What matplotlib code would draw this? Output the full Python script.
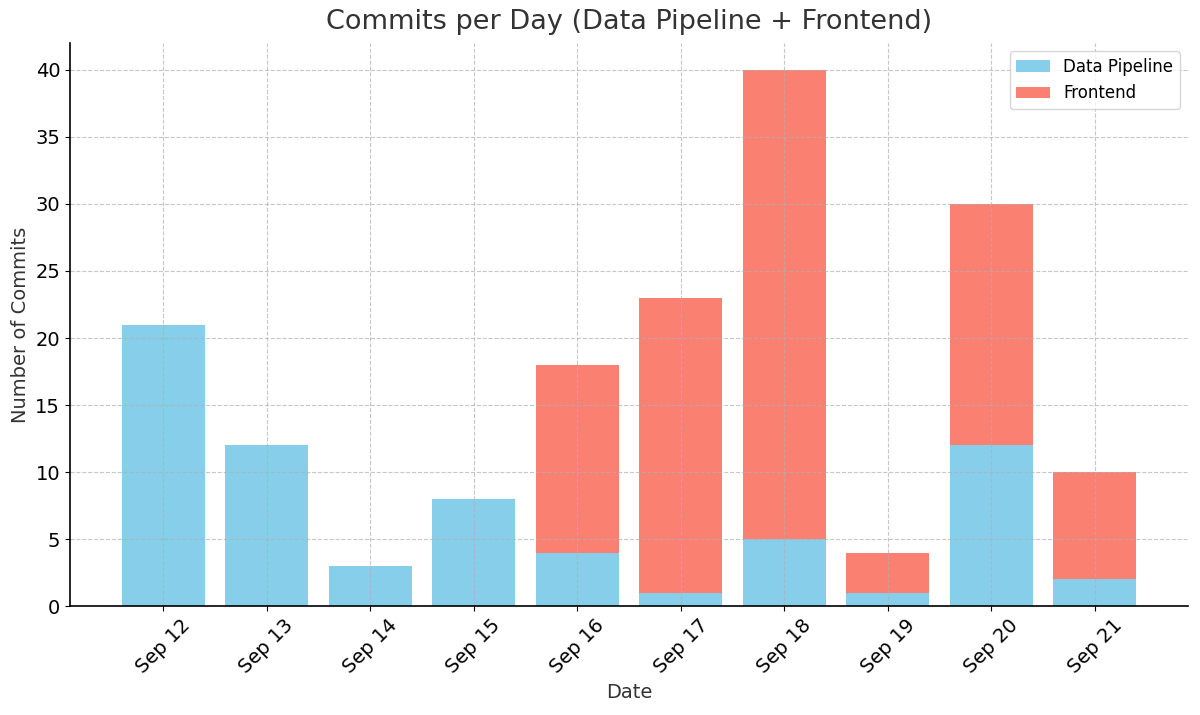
import matplotlib
matplotlib.use("Agg")
import matplotlib.pyplot as plt
import numpy as np

dates = ["Sep 12", "Sep 13", "Sep 14", "Sep 15", "Sep 16",
         "Sep 17", "Sep 18", "Sep 19", "Sep 20", "Sep 21"]
data_pipeline = [21, 12, 3, 8, 4, 1, 5, 1, 12, 2]
frontend = [0, 0, 0, 0, 14, 22, 35, 3, 18, 8]


def main():
    fig = plt.figure(figsize=(12, 7.15), dpi=100)
    ax = fig.add_axes([0.0583, 0.152, 0.9317, 0.788])

    x = np.arange(len(dates))
    ax.bar(x, data_pipeline, width=0.8, color="skyblue", label="Data Pipeline")
    ax.bar(x, frontend, width=0.8, bottom=data_pipeline, color="salmon",
           label="Frontend")

    ax.set_xticks(x)
    ax.set_xticklabels(dates, rotation=45, fontsize=14)
    ax.tick_params(axis="y", labelsize=14)
    ax.set_xlim(-0.9, 9.9)
    ax.set_ylim(0, 42)

    ax.set_title("Commits per Day (Data Pipeline + Frontend)", fontsize=19.5,
                 color="#333333", pad=10)
    ax.set_xlabel("Date", fontsize=14, color="#333333")
    ax.set_ylabel("Number of Commits", fontsize=14, color="#333333")

    ax.grid(True, linestyle="--", color="#b0b0b0", alpha=0.7)
    for side in ("top", "right"):
        ax.spines[side].set_visible(False)
    ax.spines["left"].set_linewidth(1.2)
    ax.spines["bottom"].set_linewidth(1.2)

    ax.legend(loc="upper right", fontsize=12)
    fig.savefig("out.png", dpi=100)


if __name__ == "__main__":
    main()
